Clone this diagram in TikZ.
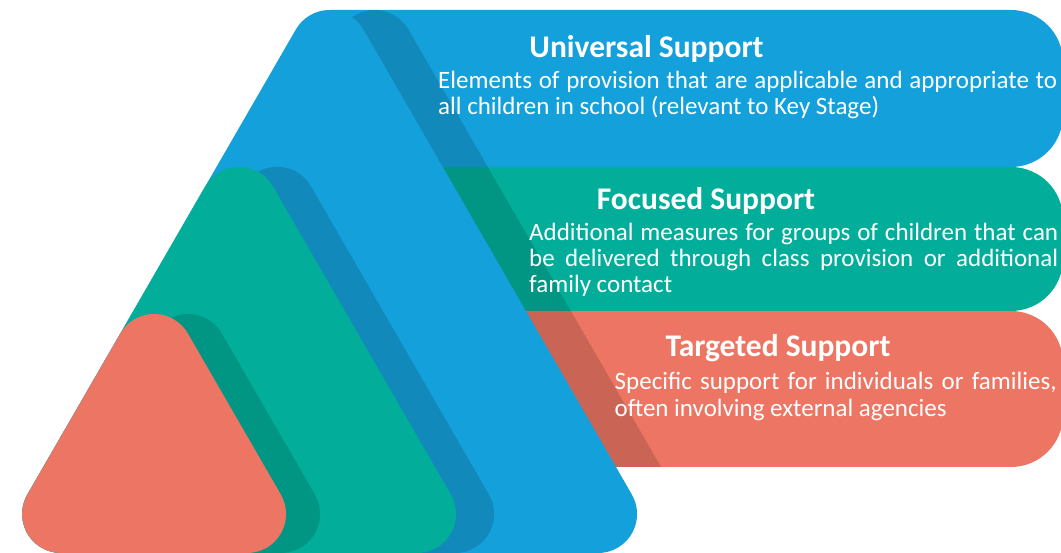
\documentclass[tikz,border=0pt]{standalone}
\usepackage{fontspec}
\setmainfont{Carlito}
\definecolor{cblue}{HTML}{14A0DA}
\definecolor{cteal}{HTML}{02AE9A}
\definecolor{csalmon}{HTML}{EC7563}
% rounded equilateral triangle: #1 x of bottom-left corner, #2 side, #3 corner radius, #4 horizontal shift, #5 fill options
\newcommand{\rtri}[5]{%
  \pgfmathsetmacro\rtS{#2}%
  \pgfmathsetmacro\rtR{#3}%
  \pgfmathsetmacro\rtGx{#1+#4+\rtS/2}%
  \pgfmathsetmacro\rtGy{\rtS*0.288675}%
  \pgfmathsetmacro\rtRho{\rtGy-\rtR}%
  \pgfmathsetmacro\rtH{\rtRho*1.732051}%
  \pgfmathsetmacro\rtAy{\rtGy+2*\rtRho}%
  \fill[#5] (\rtGx-\rtH,0) -- (\rtGx+\rtH,0)
    arc[start angle=-90,end angle=30,radius=\rtR pt]
    -- (\rtGx+0.866025*\rtR,\rtAy+0.5*\rtR)
    arc[start angle=30,end angle=150,radius=\rtR pt]
    -- (\rtGx-\rtH-0.866025*\rtR,1.5*\rtR)
    arc[start angle=150,end angle=270,radius=\rtR pt] -- cycle;%
}
% banner: #1 left x, #2 bottom y, #3 top y, #4 colour
\newcommand{\banner}[4]{%
  \fill[#4] (#1,#2) |- (1011,#3) arc[start angle=90,end angle=0,radius=52pt]
    -- (1063,#2+52) arc[start angle=0,end angle=-90,radius=52pt] -- cycle;%
}
\tikzset{
  title/.style={anchor=base, inner sep=0pt, text=white, font=\fontsize{31.5}{36}\selectfont\bfseries},
  body/.style={anchor=base west, inner sep=0pt, text=white, font=\fontsize{25}{26}\selectfont},
  shade/.style={black, fill opacity=0.14}
}
\begin{document}
\begin{tikzpicture}[x=1pt,y=1pt]
\useasboundingbox (0,0) rectangle (1061,553);
% banners
\banner{330}{386}{543}{cblue}
\banner{300}{242}{386}{cteal}
\banner{400}{86}{242}{csalmon}
% shadow of blue triangle on banners
\begin{scope}
  \clip (0,86) rectangle (1061,543);
  \rtri{-6.4}{672}{39}{45}{shade}
\end{scope}
\rtri{-6.4}{672}{39}{0}{cblue}
\rtri{-6.4}{491}{39}{38}{shade}
\rtri{-6.4}{491}{39}{0}{cteal}
\rtri{-6.4}{321}{39}{34}{shade}
\rtri{-6.4}{321}{39}{0}{csalmon}
% texts
\node[title] (ut) at (646.5,495) {Universal Support};
\node[body] (ub1) at (438,464) {\makebox[619pt][s]{Elements of provision that are applicable and appropriate to}};
\node[body] (ub2) at (438,438) {all children in school (relevant to Key Stage)};
\node[title] (ft) at (706,343) {Focused Support};
\node[body] (fb1) at (529,312) {\makebox[529pt][s]{Additional measures for groups of children that can}};
\node[body] (fb2) at (529,286) {\makebox[529pt][s]{be delivered through class provision or additional}};
\node[body] (fb3) at (529,260) {family contact};
\node[title] (tt) at (778,196) {Targeted Support};
\node[body] (tb1) at (614.5,163) {\makebox[442pt][s]{Specific support for individuals or families,}};
\node[body] (tb2) at (614.5,136) {often involving external agencies};
\end{tikzpicture}
\end{document}
